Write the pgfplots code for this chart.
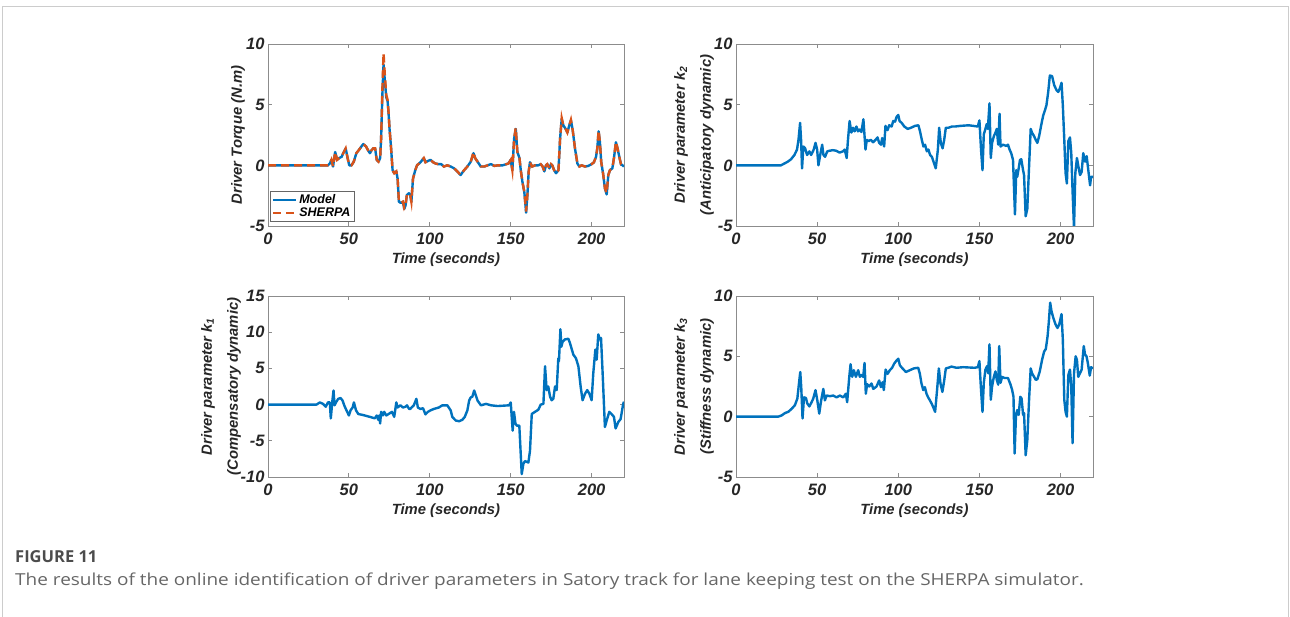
\documentclass[border=0pt]{standalone}
\usepackage{pgfplots}
\usepackage{pgfplotstable}
\pgfplotsset{compat=1.18}
\usepackage{fontspec}
\setmainfont{Liberation Sans}
\newfontfamily\capfont{Open Sans}
\newfontfamily\capfontwide[FakeStretch=1.15]{Open Sans}
\definecolor{mblue}{HTML}{0072BD}
\definecolor{morange}{HTML}{D95319}

\pgfplotstableread{
t y
0 0
37 0
38.2 0.15
39.2 0.45
40.2 -0.1
41.5 1.1
42.7 0.45
44 0.6
45.5 0.7
46.5 1.0
48 1.4
49.2 0.6
50.2 0
51.6 0
53 0.3
54.6 1.0
56.1 1.25
57.7 1.55
58.9 1.75
60.6 1.55
62 1.2
63 1.0
64 1.25
65.1 1.4
66.2 1.4
67.2 0.45
68.3 0.3
69.3 0.6
69.9 2.2
70.7 6.35
71.4 9.25
72.2 7.45
73.1 5.8
73.9 5.4
74.5 4.4
75.1 3.05
75.9 1.7
77 -0.4
78 -0.65
79.3 -0.5
80.1 -1.1
80.9 -3.0
82.1 -3.1
83.4 -3.0
84.2 -3.5
85 -3.3
85.8 -2.45
87.1 -2.3
87.9 -2.45
88.6 -3.0
89.6 -1.1
91 -0.4
92.1 0
94.2 0.25
96.3 0.6
97.3 0.25
98.7 0.35
100.4 0.45
102.1 0.25
103.5 0.15
105.1 0.1
107 0.1
108.7 -0.1
110.8 0
112.9 -0.1
115 -0.25
117 -0.5
119 -0.8
121.2 -0.4
123.2 -0.1
125.3 0.3
127 1.1
128 0.6
129.5 0.3
131.5 -0.1
133.6 -0.1
135.7 0
137.8 0.1
139.9 -0.05
142 0
145 0
148.6 0.15
150 0.45
151 -0.4
152.1 2.2
153.1 3.1
154.1 1.1
155.4 0.6
156.2 -0.4
157.2 -1.35
158.4 -2.2
159.5 -3.8
160.3 -2.45
161.1 -0.5
161.9 0.25
163.2 -0.1
165 0
167.1 0
168.5 0.1
169.7 -0.1
170.8 -0.5
171.8 0
172.6 0.1
173.9 -0.25
174.9 0.1
175.7 0
176.8 -0.4
178 -0.65
179.5 -0.4
180.5 2.2
181.5 3.9
182.5 3.3
183.7 3.05
185 2.7
186.2 3.3
187.2 3.75
188.3 2.9
189.7 1.4
191.2 0.15
192.4 -0.1
193.8 0
195.9 -0.1
197.9 -0.05
200 0.1
201.4 0.25
202.7 0.7
203.5 1.4
204.3 2.9
205.1 1.95
205.9 0.3
207.2 -0.8
208.2 -1.9
209.3 -2.3
210.3 -0.8
211.3 -0.4
212.8 -0.25
213.8 0.6
215 1.95
216 1.4
217.1 0.7
218.1 0.1
219.1 0
220 -0.1
}\sherpa

\pgfplotstableread{
t y
0 0
37 0
38.2 0.15
39.2 0.45
40.2 -0.1
41.5 1.1
42.7 0.45
44 0.6
45.5 0.7
46.5 1.0
48 1.4
49.2 0.6
50.2 0
51.6 0
53 0.3
54.6 1.0
56.1 1.25
57.7 1.55
58.9 1.75
60.6 1.55
62 1.2
63 1.0
64 1.25
65.1 1.4
66.2 1.4
67.2 0.45
68.3 0.3
69.3 0.6
69.9 2.2
70.7 5.9
71.4 8.3
72.2 7.0
73.1 5.6
73.9 5.3
74.5 4.3
75.1 3.0
75.9 1.7
77 -0.4
78 -0.65
79.3 -0.5
80.1 -1.1
80.9 -3.0
82.1 -3.1
83.4 -3.0
84.2 -3.6
85 -3.3
85.8 -2.45
87.1 -2.3
87.9 -2.45
88.6 -3.0
89.6 -1.1
91 -0.4
92.1 0
94.2 0.25
96.3 0.6
97.3 0.25
98.7 0.35
100.4 0.45
102.1 0.25
103.5 0.15
105.1 0.1
107 0.1
108.7 -0.1
110.8 0
112.9 -0.1
115 -0.25
117 -0.5
119 -0.8
121.2 -0.4
123.2 -0.1
125.3 0.3
127 1.0
128 0.6
129.5 0.3
131.5 -0.1
133.6 -0.1
135.7 0
137.8 0.1
139.9 -0.05
142 0
145 0
148.6 0.15
150 0.45
151 -0.4
152.1 2.2
153.1 3.0
154.1 1.1
155.4 0.6
156.2 -0.4
157.2 -1.35
158.4 -2.2
159.5 -3.9
160.3 -2.45
161.1 -0.5
161.9 0.25
163.2 -0.1
165 0
167.1 0
168.5 0.1
169.7 -0.1
170.8 -0.5
171.8 0
172.6 0.1
173.9 -0.25
174.9 0.1
175.7 0
176.8 -0.4
178 -0.65
179.5 -0.4
180.5 2.2
181.5 3.8
182.5 3.3
183.7 3.05
185 2.7
186.2 3.3
187.2 3.7
188.3 2.9
189.7 1.4
191.2 0.15
192.4 -0.1
193.8 0
195.9 -0.1
197.9 -0.05
200 0.1
201.4 0.25
202.7 0.7
203.5 1.4
204.3 2.8
205.1 1.95
205.9 0.3
207.2 -0.8
208.2 -1.9
209.3 -2.4
210.3 -0.8
211.3 -0.4
212.8 -0.25
213.8 0.6
215 1.9
216 1.4
217.1 0.7
218.1 0.1
219.1 0
220 -0.1
}\model

\pgfplotstableread{
t y
0 0
27.7 0
29.8 0.15
31.9 0.3
33.9 0.5
36 0.85
37.6 1.3
38.5 2.1
39.5 3.5
40.1 2.1
40.7 -0.25
41.5 1.55
42.6 1.4
43.8 0.85
45.2 1.15
46.3 0.85
47.9 1.3
49 1.85
50 1.3
50.8 0
51.9 0.85
53.1 1.7
53.9 0.85
54.9 0.7
56.2 1.15
57.6 1.2
59.7 1.25
61.8 1.2
63.8 1.05
65.9 1.15
67 1.3
68.2 0.6
69 2.1
70 3.65
71.1 2.7
72.1 3.1
73.1 2.8
74.2 3.2
75.2 2.8
76.2 2.95
77.3 2.75
78.5 3.8
79.8 1.3
80.6 2.1
81.8 2.0
83.1 2.1
84.5 1.9
86 2.1
87.2 2.3
88.2 1.85
89.3 1.7
90.1 2.25
91.3 1.55
92.1 3.25
93.4 2.9
94.4 3.3
95.9 3.2
96.9 3.65
98 3.6
99 4.0
100 4.15
100.8 3.65
102.1 3.5
103.7 3.2
105.8 3.0
107.9 3.1
110.3 3.25
112.4 3.3
113.4 2.8
114.5 2.1
115.5 1.55
116.5 1.7
117.6 1.15
118.6 1.3
119.6 0.85
120.7 0.7
121.7 0.3
123.1 -0.25
124.4 1.3
125.2 3.1
126.2 1.85
127.3 1.4
128.3 2.1
129.3 3.1
131 3.1
133.1 3.2
135.1 3.2
138.2 3.25
143.4 3.3
149 3.2
150 3.7
151 1.3
151.9 -0.4
152.7 2.55
153.7 3.0
154.5 3.4
155.2 3.0
156.2 5.1
157 0.6
157.8 1.85
158.9 2.4
159.9 2.7
160.7 3.0
161.6 1.7
162.4 4.25
163 1.55
164.5 1.7
166.5 1.6
167.6 1.7
168.6 1.3
169.6 1.0
170.7 0.45
171.3 -1.8
171.9 -4.05
172.7 -0.4
173.3 -0.95
174.2 -0.25
175 0.45
175.8 0.5
176.9 -0.4
177.5 -0.8
178.5 -4.2
179.5 -3.6
180.6 -0.1
181.6 3.0
182.4 2.7
183.7 2.4
184.7 2.1
185.7 1.85
186.8 2.4
188.2 3.4
189.3 4.1
190.3 4.5
191.3 4.95
192.4 6.05
193.4 7.4
194.8 7.35
196.1 6.6
197.5 6.2
198.6 6.05
199.6 6.35
200.6 6.8
201.4 4.95
202.3 2.1
203.1 -0.65
203.9 -1.5
204.8 2.0
205.8 2.3
206.6 1.0
207.4 -2.1
208.3 -5.2
209.1 -0.65
210.1 0.6
211 -0.1
212 -0.8
213 -0.55
214 1.0
215.1 0.3
216.1 0.75
217.1 -0.4
218.2 -1.65
218.8 -0.95
220 -0.95
}\ktwo

\pgfplotstableread{
t y
0 0
30 0
32 0.3
34 0.1
35.7 -0.3
37 0.3
38.2 0.3
38.8 -1.9
39.8 0.55
40.5 1.95
41.1 -0.1
42 0.3
43.4 0.8
44.9 0.9
46.1 0.55
47.1 -0.1
48.5 -0.8
50 -1.5
51 -0.8
52.3 -0.4
53.1 0.3
54.4 -0.8
55.8 -1.3
58.9 -1.45
63 -1.7
66 -1.9
67.2 -1.5
68.1 -2.1
68.7 -1.5
69.3 -2.6
69.9 -1.0
71 -1.5
71.8 -1.0
73.1 -1.5
74.5 -1.3
76.6 -1.0
78 -1.7
79.3 0.3
80.1 -0.4
81.8 -0.1
83.4 -0.4
84.9 -0.3
85.9 -0.1
87.2 -0.6
88 -0.6
88.7 -0.4
90.1 -0.1
91.7 0.8
92.6 -0.4
94.2 -0.6
95.8 -0.5
97.3 -1.35
98.8 -1.0
100.4 -0.8
102.5 -0.6
105.6 -0.4
107.7 -0.1
110.8 -0.1
112.9 -0.8
113.9 -1.7
116 -2.2
118.1 -2.3
120.1 -2.1
121.6 -1.7
123.2 -0.8
124.3 0.55
125.3 1.0
126.3 1.1
127.4 1.95
128.4 1.3
129.5 0.55
131.6 -0.1
134.7 0.1
137.8 -0.1
141.9 -0.2
149 -0.1
150 0.3
151.2 -3.6
152 -1.0
152.9 -2.6
153.7 -2.9
155.3 -2.9
156.8 -9.6
157.8 -8.2
158.8 -7.8
160.9 -8.0
161.9 -6.4
163 -1.3
165 -1.0
167.1 -0.7
168.5 0
170.2 0.1
171.2 5.3
172.2 2.0
173.2 2.5
174.3 1.1
175.3 0.6
176.3 0.8
177.4 2.5
178.4 2.0
179.4 6.4
179.8 6.0
180.7 10.4
181.3 8.0
182.1 8.7
183.5 9.0
185.6 9.1
186.6 8.5
188.7 6.9
190.3 6.4
191.8 5.3
193.2 2.5
194.4 0.6
195.9 1.5
197.3 2.0
198.6 1.5
200 0.6
201 4.3
202.3 7.6
203.1 6.2
204.1 9.7
205.1 9.0
205.8 9.2
206.8 4.3
208.2 -3.1
209.3 -2.2
210.9 -1.0
212.3 -1.3
213.8 -1.7
214.8 -3.3
216.5 -2.4
217.9 -2.0
219.5 0.1
220 0.4
}\kone

\pgfplotstableread{
t y
0 0
26 0
28.1 0.1
30.2 0.3
32.2 0.4
34.3 0.65
36.3 0.95
37.8 1.5
39 3.0
39.6 3.7
40.2 2.45
41 -0.15
41.9 1.6
43.1 1.55
43.9 1.1
45.2 0.85
46.6 1.2
47.6 1.5
49 2.2
50.1 1.35
51.3 0.25
52.3 1.2
53.8 2.3
54.8 1.35
55.8 1.75
57.9 1.7
59.9 1.75
62 1.6
64 1.75
66.1 1.6
67.7 1.9
68.5 1.2
69.8 3.3
70.6 4.35
71.6 3.3
72.6 3.85
73.9 3.3
75.3 3.85
76.3 3.3
77.4 3.45
78.4 3.3
79.2 4.45
80 1.9
80.8 2.7
82.1 2.5
83.5 2.75
84.6 2.3
86.6 2.5
88.2 3.0
89.3 2.45
90.3 2.85
91.1 2.2
92.2 3.9
93.4 3.55
94.8 3.85
96.2 4.05
97.5 4.4
98.9 4.65
100 4.8
101 4.25
102.6 4.0
104.7 3.7
107.1 3.85
109.6 4.0
112.3 4.05
113.3 3.55
114.3 2.75
115.4 2.2
116.4 2.45
117.4 1.9
118.4 1.6
119.5 1.35
120.5 1.1
121.5 0.8
122.7 0.4
123.9 2.2
125 4.0
126 2.75
127.2 2.05
128.3 3.0
129.3 4.0
130.8 4.05
132.8 4.15
135.9 4.05
140 4.1
147 4.05
149 4.1
150 4.6
151 2.2
151.9 0.4
152.7 2.8
153.7 3.9
154.8 4.2
155.4 3.6
156.2 6.0
157 1.4
157.8 2.5
158.9 3.3
159.9 3.75
160.7 3.05
161.6 2.65
162.2 5.85
163 2.8
164 3.3
165.5 3.2
167.6 3.2
169.2 2.65
170.2 2.2
171 1.65
171.7 -3.05
172.5 0
173.3 0.55
174.2 0.15
175.2 1.65
176 1.5
176.9 0.15
177.5 0.3
178.5 -3.2
179.5 -1.95
180.6 1.4
181.6 4.0
182.4 3.6
183.7 3.3
184.7 3.05
185.7 3.1
187.2 3.75
188.6 4.7
189.9 5.4
190.9 5.6
192 6.65
192.8 7.9
193.6 9.45
194.4 8.75
195.5 8.2
196.9 7.65
198.1 7.35
199.2 7.65
200.6 8.5
201.4 6.4
202.3 1.4
203.1 0.4
203.9 0
204.8 3.45
205.8 3.9
206.6 2.5
207.4 -2.2
208.3 3.6
209.3 5.0
210.1 4.7
210.9 3.3
212 3.6
213 3.9
214.3 5.85
215.1 5.15
216 5.0
216.8 4.45
218 3.4
218.8 4.1
220 4.0
}\kthree

\pgfplotsset{
  mat/.style={
    scale only axis,
    xmin=0, xmax=220,
    xtick={0,50,100,150,200},
    xticklabels={0,50,100,150,200},
    tick align=inside,
    axis line style={black!45, line width=0.9pt},
    major tick length=4pt,
    every tick/.style={black!45, line width=0.9pt},
    tick label style={font=\fontsize{16.5}{16.5}\selectfont\bfseries\itshape, text=black!85},
    xticklabel shift=3pt,
    label style={font=\fontsize{14.8}{26}\selectfont\bfseries\itshape, text=black!85},
    ylabel style={align=center, at={(axis description cs:0,0.5)}, anchor=center},
    xlabel={Time (seconds)},
    xlabel style={yshift=-2pt},
    clip=true,
  },
  dat/.style={mblue, line width=2.4pt, line join=round},
}

\begin{document}
\begin{tikzpicture}
\useasboundingbox (0pt,0pt) rectangle (1290pt,617pt);
\draw[black!20, line width=1pt] (2pt,0pt) -- (2pt,610pt) -- (1288pt,610pt) -- (1288pt,0pt);

% top-left
\begin{axis}[mat, at={(268pt,391pt)}, anchor=south west, width=356pt, height=182pt,
  ymin=-5, ymax=10, ytick={-5,0,5,10}, yticklabels={-5,0,5,10},
  ylabel={Driver Torque (N.m)}, ylabel style={yshift=30pt},
  legend style={at={(0.006,0.022)}, anchor=south west, draw=black!60, line width=0.6pt,
    fill=white, font=\fontsize{12.5}{12.5}\selectfont\bfseries\itshape, inner sep=1.5pt,
    row sep=-1.5pt},
  legend cell align=left,
  legend image code/.code={\draw[#1] (0pt,0pt) -- (23pt,0pt);}]
\addplot[dat] table[x=t,y=y] {\model};
\addlegendentry{Model}
\addplot[morange, line width=2.4pt, dash pattern=on 8pt off 5pt] table[x=t,y=y] {\sherpa};
\addlegendentry{SHERPA}
\end{axis}

% top-right
\begin{axis}[mat, at={(736pt,391pt)}, anchor=south west, width=357pt, height=182pt,
  ymin=-5, ymax=10, ytick={-5,0,5,10}, yticklabels={-5,0,5,10},
  ylabel={Driver parameter \textit{k}\textsubscript{2}\\(Anticipatory dynamic)}, ylabel style={yshift=42pt}]
\addplot[dat] table[x=t,y=y] {\ktwo};
\end{axis}

% bottom-left
\begin{axis}[mat, at={(268pt,140pt)}, anchor=south west, width=356pt, height=181pt,
  ymin=-10, ymax=15, ytick={-10,-5,0,5,10,15}, yticklabels={-10,-5,0,5,10,15},
  ylabel={Driver parameter \textit{k}\textsubscript{1}\\(Compensatory dynamic)}, ylabel style={yshift=47pt}]
\addplot[dat] table[x=t,y=y] {\kone};
\end{axis}

% bottom-right
\begin{axis}[mat, at={(736pt,140pt)}, anchor=south west, width=357pt, height=181pt,
  ymin=-5, ymax=10, ytick={-5,0,5,10}, yticklabels={-5,0,5,10},
  ylabel={Driver parameter \textit{k}\textsubscript{3}\\(Stiffness dynamic)}, ylabel style={yshift=42pt}]
\addplot[dat] table[x=t,y=y] {\kthree};
\end{axis}

\node[anchor=base west, inner sep=0pt, text=black!70, font=\capfont\bfseries\fontsize{16.5}{16.5}\selectfont] at (15pt,54pt) {FIGURE 11};
\node[anchor=base west, inner sep=0pt, text=black!60, font=\capfontwide\fontsize{16.5}{16.5}\selectfont] at (15pt,31pt) {The results of the online identification of driver parameters in Satory track for lane keeping test on the SHERPA simulator.};
\end{tikzpicture}
\end{document}
